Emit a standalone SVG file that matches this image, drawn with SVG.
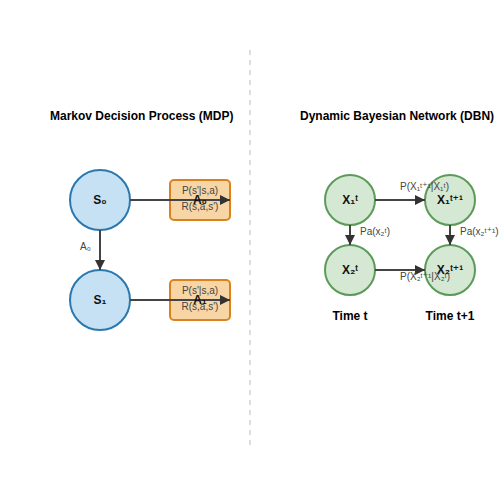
<svg xmlns="http://www.w3.org/2000/svg" width="500" height="500" viewBox="0 0 500 500">
<defs>
<marker id="arr" markerWidth="10" markerHeight="10" refX="10" refY="5" orient="auto" markerUnits="userSpaceOnUse">
<path d="M0,0 L10,5 L0,10 Z" fill="#333"/>
</marker>
<style>
text{font-family:"Liberation Sans","DejaVu Sans",Arial,sans-serif}
.title{font-size:12px;font-weight:bold;fill:#000}
.nl{font-size:12px;font-weight:bold;fill:#111;text-anchor:middle;dominant-baseline:central}
.el{font-size:10px;fill:#444}
.mdp{fill:#c6e1f4;stroke:#2a78b0;stroke-width:2}
.dbn{fill:#d5e8d4;stroke:#5b9b57;stroke-width:2}
.box{fill:#f7d5a5;stroke:#d9821e;stroke-width:2}
.c{stroke:#444;stroke-width:2;fill:none;marker-end:url(#arr)}
</style>
</defs>
<rect width="500" height="500" fill="#fff"/>
<line x1="250" y1="50" x2="250" y2="445" stroke="#ddd" stroke-width="2" stroke-dasharray="5,5"/>
<text class="title" x="50" y="120">Markov Decision Process (MDP)</text>
<text class="title" x="300" y="120">Dynamic Bayesian Network (DBN)</text>
<g id="mdp-s0"><circle class="mdp" cx="100" cy="200" r="30"/><text class="nl" x="100" y="200">S₀</text></g>
<g id="mdp-s1"><circle class="mdp" cx="100" cy="300" r="30"/><text class="nl" x="100" y="300">S₁</text></g>
<g id="mdp-a0"><rect class="box" x="170" y="180" width="60" height="40" rx="4"/></g>
<g id="mdp-a1"><rect class="box" x="170" y="280" width="60" height="40" rx="4"/></g>
<g id="dbn-x1t"><circle class="dbn" cx="350" cy="200" r="25"/><text class="nl" x="350" y="200">X₁ᵗ</text></g>
<g id="dbn-x2t"><circle class="dbn" cx="350" cy="270" r="25"/><text class="nl" x="350" y="270">X₂ᵗ</text></g>
<g id="dbn-x1t1"><circle class="dbn" cx="450" cy="200" r="25"/><text class="nl" x="450" y="200">X₁ᵗ⁺¹</text></g>
<g id="dbn-x2t1"><circle class="dbn" cx="450" cy="270" r="25"/><text class="nl" x="450" y="270">X₂ᵗ⁺¹</text></g>
<g id="connectors">
<line class="c" x1="130" y1="200" x2="230" y2="200"/>
<line class="c" x1="130" y1="300" x2="230" y2="300"/>
<line class="c" x1="100" y1="230" x2="100" y2="270"/>
<line class="c" x1="375" y1="200" x2="425" y2="200"/>
<line class="c" x1="375" y1="270" x2="425" y2="270"/>
<line class="c" x1="350" y1="225" x2="350" y2="245"/>
<line class="c" x1="450" y1="225" x2="450" y2="245"/>
</g>
<g id="labels">
<text class="el" x="200" y="194" text-anchor="middle">P(s'|s,a)</text>
<text class="el" x="200" y="210" text-anchor="middle">R(s,a,s')</text>
<text class="nl" x="200" y="200">A₀</text>
<text class="el" x="200" y="294" text-anchor="middle">P(s'|s,a)</text>
<text class="el" x="200" y="310" text-anchor="middle">R(s,a,s')</text>
<text class="nl" x="200" y="300">A₁</text>
<text class="el" x="80" y="250">A₀</text>
<text class="el" x="400" y="190">P(X₁ᵗ⁺¹|X₁ᵗ)</text>
<text class="el" x="400" y="280">P(X₂ᵗ⁺¹|X₂ᵗ)</text>
<text class="el" x="360" y="235">Pa(x₂ᵗ)</text>
<text class="el" x="460" y="235">Pa(x₂ᵗ⁺¹)</text>
<text class="title" x="350" y="320" text-anchor="middle">Time t</text>
<text class="title" x="450" y="320" text-anchor="middle">Time t+1</text>
</g>
</svg>
